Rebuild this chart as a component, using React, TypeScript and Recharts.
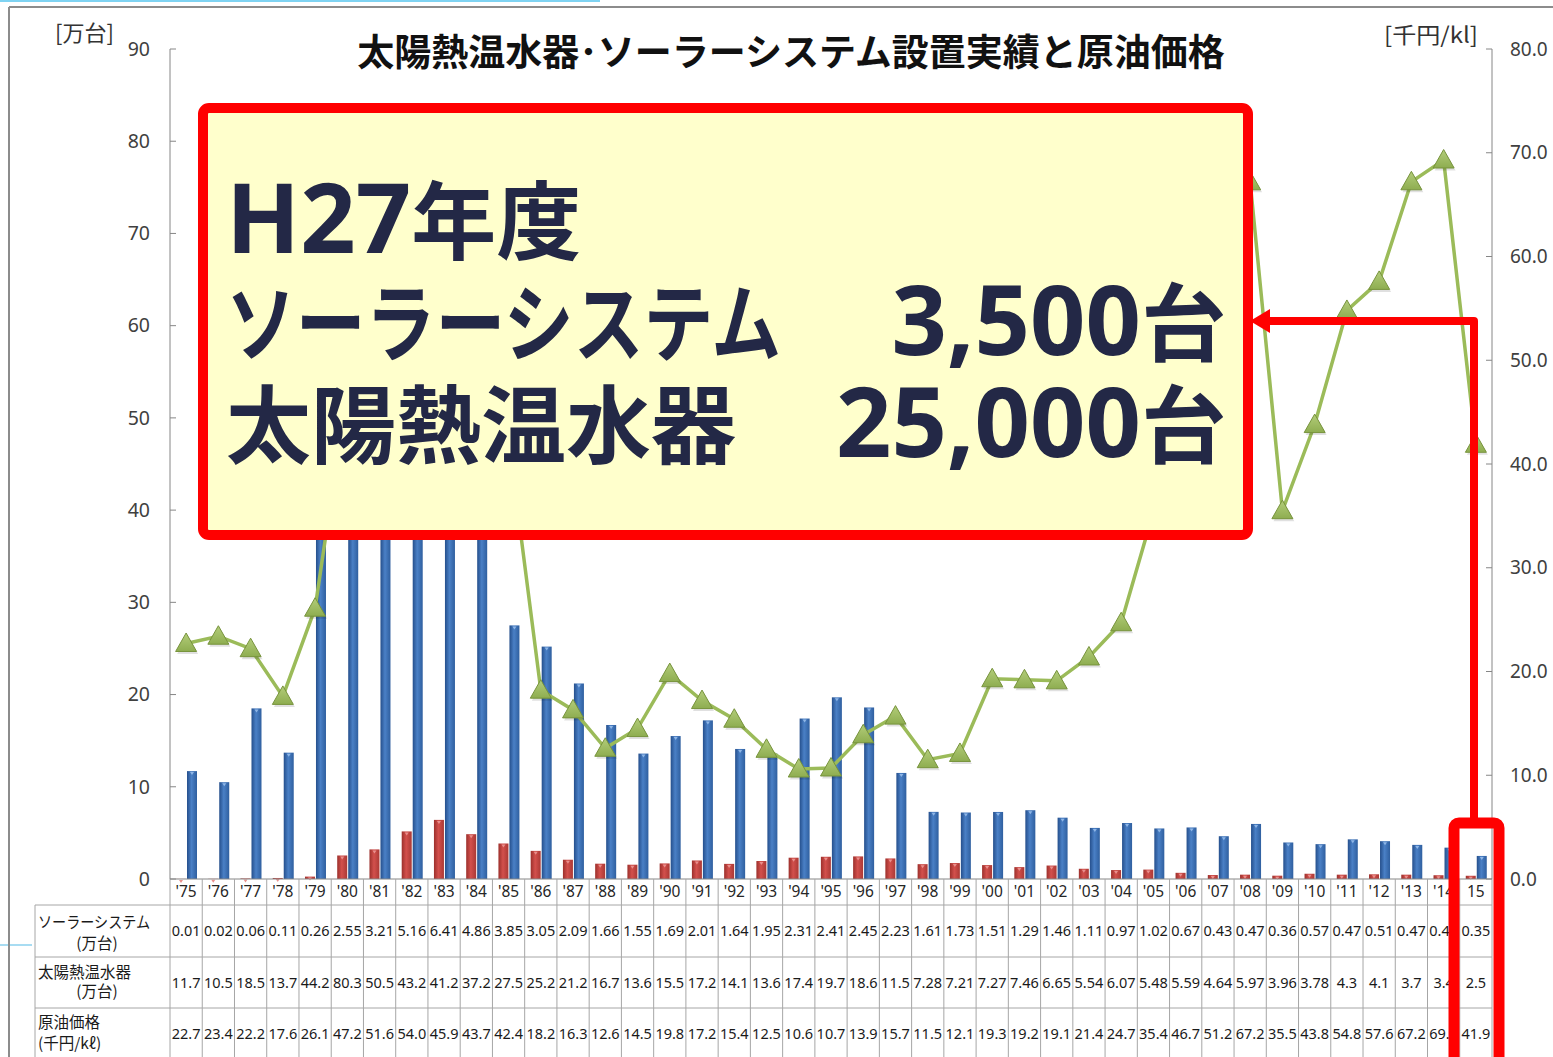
import React from 'react'
import { ComposedChart, Bar, Line, XAxis, YAxis } from 'recharts'

// 年度ラベル（表の見出し行）
const years = [
  "'75", "'76", "'77", "'78", "'79", "'80", "'81", "'82", "'83", "'84",
  "'85", "'86", "'87", "'88", "'89", "'90", "'91", "'92", "'93", "'94",
  "'95", "'96", "'97", "'98", "'99", "'00", "'01", "'02", "'03", "'04",
  "'05", "'06", "'07", "'08", "'09", "'10", "'11", "'12", "'13", "'14", '15',
]

// ソーラーシステム [万台]
const solarSystem = [
  0.01, 0.02, 0.06, 0.11, 0.26, 2.55, 3.21, 5.16, 6.41, 4.86,
  3.85, 3.05, 2.09, 1.66, 1.55, 1.69, 2.01, 1.64, 1.95, 2.31,
  2.41, 2.45, 2.23, 1.61, 1.73, 1.51, 1.29, 1.46, 1.11, 0.97,
  1.02, 0.67, 0.43, 0.47, 0.36, 0.57, 0.47, 0.51, 0.47, 0.41, 0.35,
]

// 太陽熱温水器 [万台]
const waterHeater = [
  11.7, 10.5, 18.5, 13.7, 44.2, 80.3, 50.5, 43.2, 41.2, 37.2,
  27.5, 25.2, 21.2, 16.7, 13.6, 15.5, 17.2, 14.1, 13.6, 17.4,
  19.7, 18.6, 11.5, 7.28, 7.21, 7.27, 7.46, 6.65, 5.54, 6.07,
  5.48, 5.59, 4.64, 5.97, 3.96, 3.78, 4.3, 4.1, 3.7, 3.4, 2.5,
]

// 原油価格 [千円/kl]
const crudeOil = [
  22.7, 23.4, 22.2, 17.6, 26.1, 47.2, 51.6, 54.0, 45.9, 43.7,
  42.4, 18.2, 16.3, 12.6, 14.5, 19.8, 17.2, 15.4, 12.5, 10.6,
  10.7, 13.9, 15.7, 11.5, 12.1, 19.3, 19.2, 19.1, 21.4, 24.7,
  35.4, 46.7, 51.2, 67.2, 35.5, 43.8, 54.8, 57.6, 67.2, 69.3, 41.9,
]

const leftTicks = [0, 10, 20, 30, 40, 50, 60, 70, 80, 90]
const rightTicks = [0, 10, 20, 30, 40, 50, 60, 70, 80]

const data = years.map((year, i) => ({
  year,
  solar: solarSystem[i],
  heater: waterHeater[i],
  oil: crudeOil[i],
}))

const NUM_FONT = '"Noto Sans", "Open Sans", sans-serif'
const JP_FONT = '"Noto Sans CJK JP", "Noto Sans", sans-serif'
const AXIS_GRAY = '#868686'
const GRID = '#a6a6a6'
const NAVY = '#232846'

// 表の行の境界（x軸からの距離）
const ROWS = [0, 26, 78, 129, 181]

const LeftTick = (props: any) => {
  const { x, y, payload } = props
  return (
    <g>
      <line x1={x + 20} x2={x + 26} y1={y} y2={y} stroke={AXIS_GRAY} />
      <text x={x} y={y} dy="0.35em" textAnchor="end" fontSize={19.5} fill="#404040" fontFamily={NUM_FONT}>
        {payload.value}
      </text>
    </g>
  )
}

const RightTick = (props: any) => {
  const { x, y, payload } = props
  return (
    <g>
      <line x1={x - 18} x2={x - 24} y1={y} y2={y} stroke={AXIS_GRAY} />
      <text x={x} y={y} dy="0.35em" textAnchor="start" fontSize={19} fill="#404040" fontFamily={NUM_FONT}>
        {Number(payload.value).toFixed(1)}
      </text>
    </g>
  )
}

const TableTick = (props: any) => {
  const { x, y, payload, index } = props
  const half = payload.offset || 16.12
  const l = x - half
  const r = x + half
  const last = index === years.length - 1
  const cell = { fontSize: 14.5, fill: '#1a1a1a', fontFamily: NUM_FONT, textAnchor: 'middle' as const }
  return (
    <g>
      <line x1={l} x2={l} y1={y} y2={y + ROWS[4]} stroke={GRID} />
      {last && <line x1={r} x2={r} y1={y} y2={y + ROWS[4]} stroke={GRID} />}
      {ROWS.slice(1).map((ry) => (
        <line key={ry} x1={l} x2={r} y1={y + ry} y2={y + ry} stroke={GRID} />
      ))}
      <text x={x} y={y + 13} dy="0.35em" {...cell} fontSize={15.5} fill="#262626">{payload.value}</text>
      <text x={x} y={y + 52} dy="0.35em" {...cell}>{solarSystem[index].toFixed(2)}</text>
      <text x={x} y={y + 103.5} dy="0.35em" {...cell}>{String(waterHeater[index])}</text>
      <text x={x} y={y + 155} dy="0.35em" {...cell}>{crudeOil[index].toFixed(1)}</text>
      {index === 0 && (
        <g fontFamily={JP_FONT} fontSize={15.5} fill="#1a1a1a">
          <line x1={l - 135} x2={l - 135} y1={y + ROWS[1]} y2={y + ROWS[4]} stroke={GRID} />
          {ROWS.slice(1).map((ry) => (
            <line key={ry} x1={l - 135} x2={l} y1={y + ry} y2={y + ry} stroke={GRID} />
          ))}
          <text x={l - 132} y={y + 49} textLength={112} lengthAdjust="spacingAndGlyphs">ソーラーシステム</text>
          <text x={l - 73} y={y + 70} textAnchor="middle">(万台)</text>
          <text x={l - 132} y={y + 99}>太陽熱温水器</text>
          <text x={l - 73} y={y + 118} textAnchor="middle">(万台)</text>
          <text x={l - 132} y={y + 149}>原油価格</text>
          <text x={l - 132} y={y + 170}>(千円/kℓ)</text>
        </g>
      )}
    </g>
  )
}

const CylinderBar = (props: any) => {
  const { x, y, width, height, fill, cap } = props
  if (!height || height <= 0) return null
  return (
    <g>
      <rect x={x} y={y} width={width} height={height} fill={fill} />
      <path d={`M${x + width * 0.3},${y + 1} L${x + width * 0.7},${y + 1} L${x + width / 2},${y + 4} Z`} fill={cap} />
    </g>
  )
}

const Triangle = (props: any) => {
  const { cx, cy } = props
  if (cx == null || cy == null) return null
  return (
    <g>
      <path d={`M${cx + 1.5},${cy - 8} L${cx + 12},${cy + 10.5} L${cx - 9},${cy + 10.5} Z`} fill="#000" opacity={0.12} />
      <path d={`M${cx},${cy - 10.5} L${cx + 10.5},${cy + 8} L${cx - 10.5},${cy + 8} Z`} fill="url(#greenTri)" stroke="#77933c" strokeWidth={1} />
    </g>
  )
}

export default function App() {
  return (
    <div style={{ position: 'absolute', left: 0, top: 0, width: 1553, height: 1057, overflow: 'hidden', background: '#fff' }}>
      <ComposedChart
        width={1553}
        height={1062}
        data={data}
        margin={{ top: 49, right: 0, bottom: 0, left: 0 }}
        barGap={1}
      >
        <defs>
          <linearGradient id="blueGrad" x1="0" y1="0" x2="1" y2="0">
            <stop offset="0%" stopColor="#254f8c" />
            <stop offset="45%" stopColor="#4a80c6" />
            <stop offset="100%" stopColor="#2f5f9f" />
          </linearGradient>
          <linearGradient id="redGrad" x1="0" y1="0" x2="1" y2="0">
            <stop offset="0%" stopColor="#9c302c" />
            <stop offset="45%" stopColor="#d3504c" />
            <stop offset="100%" stopColor="#ab3935" />
          </linearGradient>
          <linearGradient id="greenTri" x1="0" y1="0" x2="0" y2="1">
            <stop offset="0%" stopColor="#b3cd7a" />
            <stop offset="100%" stopColor="#8ead50" />
          </linearGradient>
        </defs>
        <XAxis
          dataKey="year"
          xAxisId={0}
          height={183}
          interval={0}
          tickSize={0}
          tickMargin={0}
          tickLine={false}
          axisLine={{ stroke: AXIS_GRAY }}
          tick={<TableTick />}
        />
        <YAxis
          yAxisId="left"
          width={170}
          domain={[0, 90]}
          ticks={leftTicks}
          tickSize={0}
          tickMargin={20}
          tickLine={false}
          axisLine={{ stroke: AXIS_GRAY }}
          tick={<LeftTick />}
          interval={0}
        />
        <YAxis
          yAxisId="right"
          orientation="right"
          width={61}
          domain={[0, 80]}
          ticks={rightTicks}
          tickSize={0}
          tickMargin={18}
          tickLine={false}
          axisLine={{ stroke: AXIS_GRAY }}
          tick={<RightTick />}
          interval={0}
        />
        <Bar dataKey="solar" yAxisId="left" barSize={10} fill="url(#redGrad)" shape={<CylinderBar cap="#e9908d" />} isAnimationActive={false} />
        <Bar dataKey="heater" yAxisId="left" barSize={10} fill="url(#blueGrad)" shape={<CylinderBar cap="#8fb6e6" />} isAnimationActive={false} />
        <Line
          dataKey="oil"
          yAxisId="right"
          type="linear"
          stroke="#9bbb59"
          strokeWidth={3.5}
          dot={<Triangle />}
          activeDot={false}
          isAnimationActive={false}
        />
      </ComposedChart>

      <svg width={1553} height={1057} style={{ position: 'absolute', left: 0, top: 0, pointerEvents: 'none' }}>
        {/* 背景の枠線 */}
        <line x1={0} x2={600} y1={1} y2={1} stroke="#7fd3f2" strokeWidth={2} />
        <line x1={0} x2={32} y1={945} y2={945} stroke="#a8dcf2" strokeWidth={2} />
        <line x1={9} x2={1553} y1={7} y2={7} stroke="#8c8c8c" strokeWidth={2} />
        <line x1={9} x2={9} y1={7} y2={1057} stroke="#8c8c8c" strokeWidth={2} />

        <text x={791} y={66} textAnchor="middle" fontFamily={JP_FONT} fontWeight={700} fontSize={37} fill="#111">
          太陽熱温水器･ソーラーシステム設置実績と原油価格
        </text>
        <text x={55} y={41} fontFamily={JP_FONT} fontSize={22} fill="#333">[万台]</text>
        <text x={1384} y={43} fontFamily={JP_FONT} fontSize={22} fill="#333" textLength={94} lengthAdjust="spacingAndGlyphs">[千円/kl]</text>

        {/* 注記ボックス */}
        <rect x={203} y={108} width={1045} height={427} rx={6} fill="#ffffcc" stroke="#ff0000" strokeWidth={10} />
        <g fontWeight={700} fill={NAVY}>
          <text x={226} y={253}>
            <tspan fontFamily={NUM_FONT} fontSize={97}>H27</tspan>
            <tspan fontFamily={JP_FONT} fontSize={85}>年度</tspan>
          </text>
          <text x={226} y={355} fontFamily={JP_FONT} fontSize={85} textLength={555} lengthAdjust="spacingAndGlyphs">ソーラーシステム</text>
          <text x={1226} y={355} textAnchor="end">
            <tspan fontFamily={NUM_FONT} fontSize={97}>3,500</tspan>
            <tspan fontFamily={JP_FONT} fontSize={85}>台</tspan>
          </text>
          <text x={226} y={457} fontFamily={JP_FONT} fontSize={85}>太陽熱温水器</text>
          <text x={1226} y={457} textAnchor="end">
            <tspan fontFamily={NUM_FONT} fontSize={97}>25,000</tspan>
            <tspan fontFamily={JP_FONT} fontSize={85}>台</tspan>
          </text>
        </g>

        {/* 矢印と強調枠 */}
        <path d="M1474,822 L1474,321 L1268,321" fill="none" stroke="#ff0000" strokeWidth={8} strokeLinejoin="round" />
        <path d="M1250,321 L1270,309 L1270,333 Z" fill="#ff0000" />
        <rect x={1454} y={823} width={45} height={250} rx={5} fill="none" stroke="#ff0000" strokeWidth={11} />
      </svg>
    </div>
  )
}
